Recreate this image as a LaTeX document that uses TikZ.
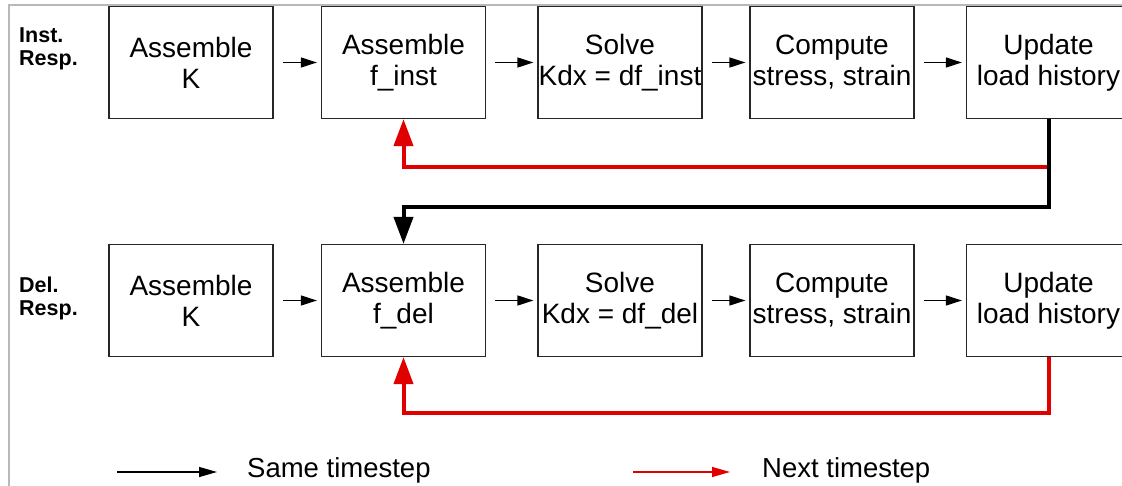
\documentclass[tikz,border=0pt]{standalone}
\usepackage{fontspec}
\setmainfont{Liberation Sans}
\usetikzlibrary{arrows.meta}
\definecolor{fbred}{HTML}{E00000}
\definecolor{framegray}{HTML}{B8B8B8}
\begin{document}
\begin{tikzpicture}[x=1pt,y=-1pt,
  box/.style={draw=black!85,line width=1.2pt,minimum width=164pt,minimum height=112pt,inner sep=0pt,align=center,font=\fontsize{28}{31}\selectfont},
  thinarrow/.style={-{Triangle[length=16pt,width=10pt]},line width=1.3pt,shorten <=9pt,shorten >=4pt},
  thickarrow/.style={-{Triangle[length=27pt,width=19pt]},line width=4pt},
  legarrow/.style={-{Triangle[length=18pt,width=10pt]},line width=1.3pt},
  rowlab/.style={anchor=north west,align=left,inner sep=0pt,font=\bfseries\fontsize{21.5}{23}\selectfont},
  legtext/.style={anchor=base west,inner sep=0pt,font=\fontsize{27.5}{31}\selectfont}]
\useasboundingbox (0,0) rectangle (1122,486);
\clip (0,0) rectangle (1122,486);
\fill[white] (0,0) rectangle (1122,486);
\draw[framegray,line width=2pt] (9,600) -- (9,5) -- (1200,5);

% row labels
\node[rowlab] (lab1) at (19,28) {Inst.\\Resp.};
\node[rowlab] (lab2) at (19,277) {Del.\\Resp.};

% top row
\node[box] (a1) at (191,62.5) {Assemble\\K};
\node[box] (a2) at (403.5,62.5) {Assemble\\f\_inst};
\node[box] (a3) at (620,62.5) {Solve\\Kdx = df\_inst};
\node[box] (a4) at (832,62.5) {Compute\\stress, strain};
\node[box] (a5) at (1048.5,62.5) {Update\\load history};

% bottom row
\node[box] (b1) at (191,300.5) {Assemble\\K};
\node[box] (b2) at (403.5,300.5) {Assemble\\f\_del};
\node[box] (b3) at (620,300.5) {Solve\\Kdx = df\_del};
\node[box] (b4) at (832,300.5) {Compute\\stress, strain};
\node[box] (b5) at (1048.5,300.5) {Update\\load history};

% same-timestep arrows
\draw[thinarrow] (a1) -- (a2);
\draw[thinarrow] (a2) -- (a3);
\draw[thinarrow] (a3) -- (a4);
\draw[thinarrow] (a4) -- (a5);
\draw[thinarrow] (b1) -- (b2);
\draw[thinarrow] (b2) -- (b3);
\draw[thinarrow] (b3) -- (b4);
\draw[thinarrow] (b4) -- (b5);

% feedback connectors
\coordinate (rt) at (1048.5,167);
\coordinate (bk) at (1048.5,207);
\coordinate (rb) at (1048.5,413);
\draw[thickarrow,fbred] (rt) -| (a2.south);
\draw[thickarrow,black] (a5.south) -- (bk) -| (b2.north);
\draw[thickarrow,fbred] (b5.south) -- (rb) -| (b2.south);

% legend
\coordinate (l1s) at (117,472);
\coordinate (l1e) at (217,472);
\coordinate (l2s) at (633,472);
\coordinate (l2e) at (730,472);
\draw[legarrow,black] (l1s) -- (l1e);
\draw[legarrow,fbred] (l2s) -- (l2e);
\node[legtext] (t1) at (247,477) {Same timestep};
\node[legtext] (t2) at (762,477) {Next timestep};
\end{tikzpicture}
\end{document}
